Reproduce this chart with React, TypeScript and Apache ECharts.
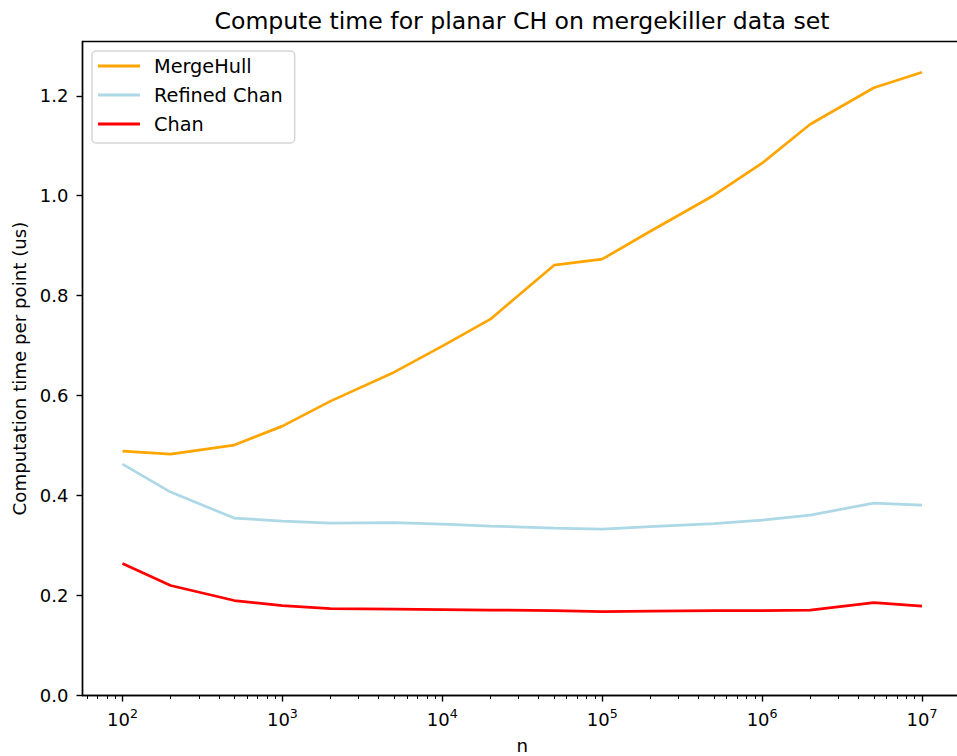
import React, { useEffect, useRef } from "react";
import * as echarts from "echarts";

// Problem sizes (number of points)
const nValues = [100, 200, 500, 1000, 2000, 5000, 10000, 20000, 50000, 100000, 200000, 500000, 1000000, 2000000, 5000000, 10000000];

// Computation time per point (us)
const mergeHull = [0.489, 0.483, 0.501, 0.539, 0.589, 0.647, 0.699, 0.753, 0.861, 0.873, 0.929, 1.001, 1.065, 1.143, 1.216, 1.247];
const refinedChan = [0.463, 0.407, 0.355, 0.349, 0.345, 0.346, 0.343, 0.339, 0.335, 0.333, 0.338, 0.344, 0.351, 0.361, 0.385, 0.381];
const chan = [0.264, 0.220, 0.190, 0.180, 0.174, 0.173, 0.172, 0.171, 0.170, 0.168, 0.169, 0.170, 0.170, 0.171, 0.186, 0.179];

// Axis ticks
const xMajorTicks = [100, 1000, 10000, 100000, 1000000, 10000000];
const xMinorTicks = [
  60, 70, 80, 90,
  200, 300, 400, 500, 600, 700, 800, 900,
  2000, 3000, 4000, 5000, 6000, 7000, 8000, 9000,
  20000, 30000, 40000, 50000, 60000, 70000, 80000, 90000,
  200000, 300000, 400000, 500000, 600000, 700000, 800000, 900000,
  2000000, 3000000, 4000000, 5000000, 6000000, 7000000, 8000000, 9000000,
];
const yTicks = [0, 0.2, 0.4, 0.6, 0.8, 1.0, 1.2];

const FONT = "DejaVu Sans";
const X_MIN = Math.pow(10, 1.75);
const X_MAX = Math.pow(10, 7.25);

const supDigits = (v: number) => String(Math.round(Math.log10(v)));

export default function App() {
  const ref = useRef<HTMLDivElement>(null);

  useEffect(() => {
    if (!ref.current) return;
    const chart = echarts.init(ref.current, undefined, { renderer: "svg" });

    const pairs = (ys: number[]) => nValues.map((n, i) => [n, ys[i]]);

    chart.setOption({
      animation: false,
      backgroundColor: "#ffffff",
      textStyle: { fontFamily: FONT },
      title: {
        text: "Compute time for planar CH on mergekiller data set",
        left: 522,
        textAlign: "center",
        top: 9,
        padding: 0,
        textStyle: { fontFamily: FONT, fontSize: 23.6, fontWeight: "normal", color: "#000" },
      },
      legend: {
        orient: "vertical",
        left: 92,
        top: 51,
        padding: [5, 12, 9, 6],
        itemWidth: 42,
        itemHeight: 3,
        itemGap: 9,
        icon: "rect",
        backgroundColor: "rgba(255,255,255,0.8)",
        borderColor: "#d6d6d6",
        borderWidth: 1.5,
        borderRadius: 4,
        textStyle: { fontFamily: FONT, fontSize: 19.3, color: "#000", lineHeight: 20, padding: [0, 0, 0, 9] },
        data: ["MergeHull", "Refined Chan", "Chan"],
      },
      grid: {
        left: 82.5,
        top: 41.5,
        width: 879.5,
        height: 654,
        containLabel: false,
        outerBoundsMode: "none",
        show: true,
        borderColor: "#000",
        borderWidth: 1.4,
        backgroundColor: "transparent",
      },
      xAxis: [
        {
          type: "log",
          logBase: 10,
          min: X_MIN,
          max: X_MAX,
          name: "n",
          nameLocation: "middle",
          nameGap: 41,
          nameTextStyle: { fontFamily: FONT, fontSize: 18.2, color: "#000", lineHeight: 18 },
          axisLine: { show: true, lineStyle: { color: "#000", width: 1.4 } },
          axisTick: { show: true, length: 6, lineStyle: { color: "#000", width: 1.4 }, customValues: xMajorTicks },
          splitLine: { show: false },
          axisLabel: {
            customValues: xMajorTicks,
            margin: 11,
            color: "#000",
            formatter: (v: number) => `{b|10}{s|${supDigits(v)}}`,
            rich: {
              b: { fontFamily: FONT, fontSize: 18, color: "#000", lineHeight: 22, verticalAlign: "bottom" },
              s: { fontFamily: FONT, fontSize: 12.6, color: "#000", lineHeight: 14, verticalAlign: "top" },
            },
          },
        },
        {
          type: "log",
          logBase: 10,
          min: X_MIN,
          max: X_MAX,
          position: "bottom",
          axisLine: { show: false },
          axisTick: { show: true, length: 3.5, lineStyle: { color: "#000", width: 1 }, customValues: xMinorTicks },
          axisLabel: { show: false },
          splitLine: { show: false },
        },
      ],
      yAxis: {
        type: "value",
        min: 0,
        max: 1.3086,
        interval: 0.2,
        name: "Computation time per point (us)",
        nameLocation: "middle",
        nameRotate: 90,
        nameGap: 53,
        nameTextStyle: { fontFamily: FONT, fontSize: 18.2, color: "#000" },
        axisLine: { show: true, lineStyle: { color: "#000", width: 1.4 } },
        axisTick: { show: true, length: 6, lineStyle: { color: "#000", width: 1.4 }, customValues: yTicks },
        splitLine: { show: false },
        axisLabel: {
          customValues: yTicks,
          margin: 14,
          fontFamily: FONT,
          fontSize: 18,
          color: "#000",
          formatter: (v: number) => v.toFixed(1),
        },
      },
      series: [
        {
          name: "MergeHull",
          type: "line",
          data: pairs(mergeHull),
          color: "#FFA500",
          showSymbol: false,
          lineStyle: { width: 2.7, color: "#FFA500" },
          xAxisIndex: 0,
        },
        {
          name: "Refined Chan",
          type: "line",
          data: pairs(refinedChan),
          color: "#ADD8E6",
          showSymbol: false,
          lineStyle: { width: 2.7, color: "#ADD8E6" },
          xAxisIndex: 0,
        },
        {
          name: "Chan",
          type: "line",
          data: pairs(chan),
          color: "#FF0000",
          showSymbol: false,
          lineStyle: { width: 2.7, color: "#FF0000" },
          xAxisIndex: 0,
        },
      ],
    });

    return () => chart.dispose();
  }, []);

  return (
    <div
      ref={ref}
      style={{ position: "absolute", left: 0, top: 0, width: 957, height: 756 }}
    />
  );
}
